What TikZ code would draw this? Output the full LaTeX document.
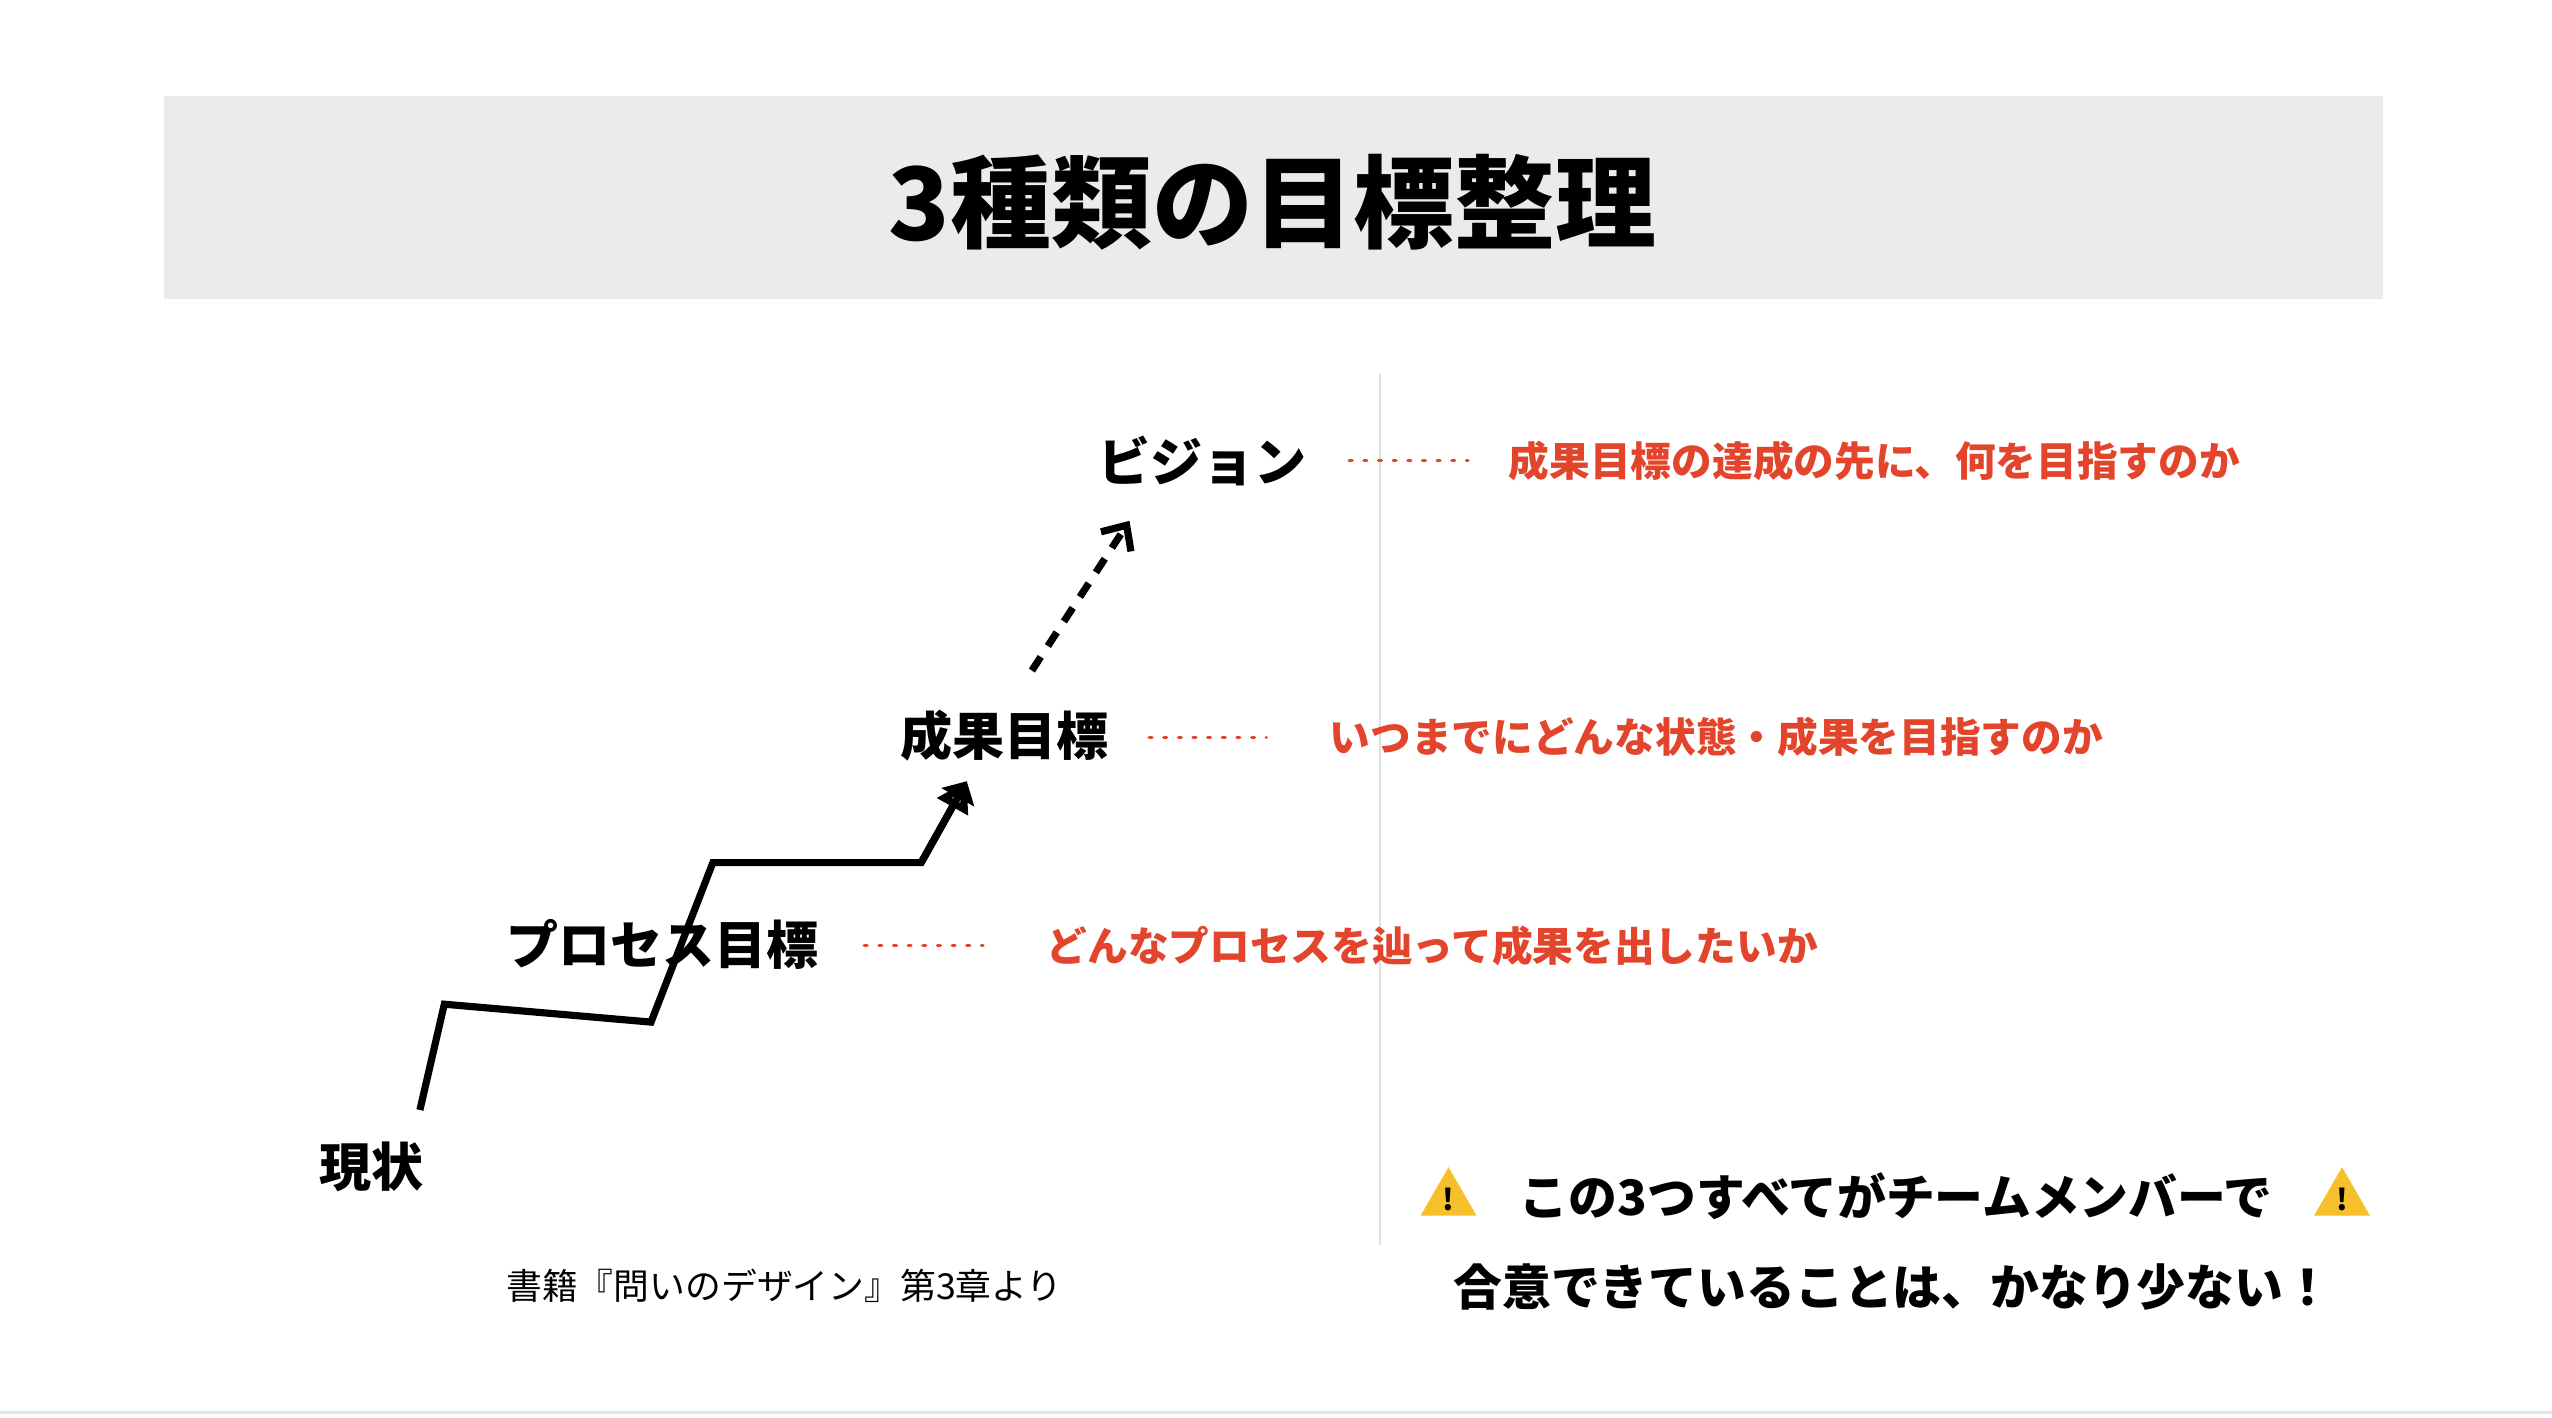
\documentclass[tikz,border=0pt]{standalone}
\usepackage{fontspec}
\setmainfont{Noto Sans CJK JP}
\usetikzlibrary{arrows.meta,shapes.geometric}
\definecolor{band}{HTML}{EBEBEB}
\definecolor{redt}{HTML}{E2452B}
\definecolor{warn}{HTML}{F5C02A}
\tikzset{
  lvl/.style={font=\fontsize{16}{18}\selectfont\bfseries},
  desc/.style={font=\fontsize{12.5}{14}\selectfont\bfseries,text=redt,anchor=west},
  dots/.style={redt,line width=1pt,dash pattern=on 0.9pt off 3.6pt,line cap=round},
  stair/.style={line width=2.2pt,line join=miter},
  warntri/.style={regular polygon,regular polygon sides=3,fill=warn,inner sep=0pt,minimum size=17pt,font=\fontsize{9}{9}\selectfont\bfseries}
}
\begin{document}
\begin{tikzpicture}[x=0.5pt,y=-0.5pt]
\useasboundingbox (0,0) rectangle (1568,871);
\fill[white] (0,0) rectangle (1568,871);
\fill[band] (101,59) rectangle (1464,184);
\node[font=\fontsize{31}{34}\selectfont\bfseries] (title) at (782,124) {3種類の目標整理};
\draw[black!12,line width=0.6pt] (848,230) -- (848,765);
\draw[black!10,line width=0.8pt] (0,868) -- (1568,868);
% levels
\node[lvl] (vis) at (739,283) {ビジョン};
\node[lvl] (seika) at (617,452) {成果目標};
\node[lvl] (proc) at (407,580) {プロセス目標};
\node[lvl] (now) at (228,717) {現状};
% dots
\coordinate (d1a) at (829,283); \coordinate (d1b) at (902,283);
\coordinate (d2a) at (706,453); \coordinate (d2b) at (778,453);
\coordinate (d3a) at (531,581); \coordinate (d3b) at (604,581);
\draw[dots] (d1a) -- (d1b);
\draw[dots] (d2a) -- (d2b);
\draw[dots] (d3a) -- (d3b);
\node[desc] (t1) at (920,283) {成果目標の達成の先に、何を目指すのか};
\node[desc] (t2) at (810,453) {いつまでにどんな状態・成果を目指すのか};
\node[desc] (t3) at (636,581) {どんなプロセスを辿って成果を出したいか};
% stairs
\coordinate (s0) at (258,682);
\coordinate (s1) at (273,617);
\coordinate (s2) at (400,628);
\coordinate (s3) at (438,530);
\coordinate (s4) at (566,530);
\coordinate (s5) at (594,480);
\draw[stair,-{Triangle[open=false,length=9pt,width=9pt,angle'=60]}] (s0) -- (s1) -- (s2) -- (s3) -- (s4) -- (s5);
\draw[stair,-{Triangle[angle=90:8pt]}] (s4) -- (s5);
\coordinate (a0) at (634,412);
\coordinate (a1) at (694,320);
\draw[line width=2.2pt,dash pattern=on 5pt off 4pt,-{Straight Barb[length=6pt,width=11pt]}] (a0) -- (a1);
% caption
\node[font=\fontsize{11}{13}\selectfont] (cap) at (482,790) {書籍『問いのデザイン』第3章より};
% warning
\node[font=\fontsize{15}{17}\selectfont\bfseries] (w1) at (1165,735) {この3つすべてがチームメンバーで};
\node[warntri] (tri1) at (890,737) {!};
\node[warntri] (tri2) at (1439,737) {!};
\node[font=\fontsize{15}{17}\selectfont\bfseries] (w2) at (1163,791) {合意できていることは、かなり少ない！};
\end{tikzpicture}
\end{document}
